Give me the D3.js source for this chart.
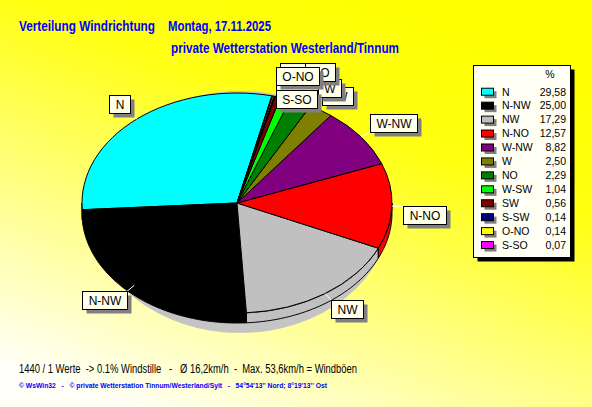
<!DOCTYPE html>
<html><head><meta charset="utf-8">
<script src="https://cdn.jsdelivr.net/npm/d3@7"></script>
<style>body{margin:0;overflow:hidden;background:#fff}text{white-space:pre}</style>
</head><body>
<svg id="c" width="592" height="407"></svg>
<script>
// ---- data ----
const directions = ["N","N-NW","NW","N-NO","W-NW","W","NO","W-SW","SW","S-SW","O-NO","S-SO"];
const percents   = [29.58,25.00,17.29,12.57,8.82,2.50,2.29,1.04,0.56,0.14,0.14,0.07];
const sliceColors = ["#00FFFF","#000000","#C0C0C0","#FF0000","#800080","#808000","#008000","#00FF00","#800000","#000080","#FFFF00","#FF00FF"];
const titleLeft = "Verteilung Windrichtung";
const titleDate = "Montag, 17.11.2025";
const subtitle = "private Wetterstation Westerland/Tinnum";
const statsLine = "1440 / 1 Werte  -> 0.1% Windstille   -   Ø 16,2km/h  -  Max. 53,6km/h = Windböen";
const creditLine = "© WsWin32   -   © private Wetterstation Tinnum/Westerland/Sylt   -   54°54'13'' Nord; 8°19'13'' Ost";
const legendHeader = "%";
// label collision nudges (top cluster)
const labelNudges = {"W":[-9,-7],"NO":[0,-14],"W-SW":[-13,1],"SW":[41,16],"S-SW":[3,-7.5],"O-NO":[0,-3.5],"S-SO":[1,20]};
const labelOrder = ["N","N-NW","NW","N-NO","W-NW","W-SW","S-SW","SW","W","NO","O-NO","S-SO"];

// ---- layout ----
const W = 592, H = 407;
const cx = 237, cy = 203, rx = 155, ry = 110, depth = 10, startDeg = 13;
const deg = Math.PI / 180;
const svg = d3.select("#c");
const font = "'Liberation Sans', Arial, sans-serif";

const defs = svg.append("defs");
const grad = defs.append("linearGradient").attr("id","bg").attr("x1","0.75").attr("y1","0").attr("x2","0.2").attr("y2","1");
grad.append("stop").attr("offset","0").attr("stop-color","#FFFF00");
grad.append("stop").attr("offset","0.3").attr("stop-color","#FFFF10");
grad.append("stop").attr("offset","1").attr("stop-color","#FFFFF8");
svg.append("rect").attr("width",W).attr("height",H).attr("fill","url(#bg)");

// titles
svg.append("text").attr("x",19).attr("y",30.5).attr("font-family",font).attr("font-weight","bold").attr("font-size",14)
  .attr("fill","#0000FF").attr("textLength",136).attr("lengthAdjust","spacingAndGlyphs").text(titleLeft);
svg.append("text").attr("x",168).attr("y",30.5).attr("font-family",font).attr("font-weight","bold").attr("font-size",14)
  .attr("fill","#0000FF").attr("textLength",103).attr("lengthAdjust","spacingAndGlyphs").text(titleDate);
svg.append("text").attr("x",171).attr("y",53.3).attr("font-family",font).attr("font-weight","bold").attr("font-size",14)
  .attr("fill","#0000FF").attr("textLength",228).attr("lengthAdjust","spacingAndGlyphs").text(subtitle);

// pie
const data = directions.map((k,i)=>({k, v:percents[i], c:sliceColors[i]}));
const pie = d3.pie().sort(null).value(d=>d.v).startAngle(startDeg*deg).endAngle(startDeg*deg - 2*Math.PI);
const arcs = pie(data);
const pt = (a, ex=0, ey=0) => [cx + (rx+ex)*Math.sin(a), cy - (ry+ey)*Math.cos(a)];

// shadow
svg.append("ellipse").attr("cx",240).attr("cy",212).attr("rx",150).attr("ry",121).attr("fill","#C4C4C4");

// walls (front half)
const frontLo = -270*deg, frontHi = -90*deg;
const lineGen = d3.line();
const wallG = svg.append("g");
arcs.forEach(a => {
  const lo = Math.max(Math.min(a.startAngle,a.endAngle), frontLo);
  const hi = Math.min(Math.max(a.startAngle,a.endAngle), frontHi);
  if (hi <= lo) return;
  const n = Math.max(2, Math.ceil((hi-lo)/deg));
  const top = d3.range(n+1).map(i => pt(lo + (hi-lo)*i/n));
  const bot = top.slice().reverse().map(p => [p[0], p[1]+depth]);
  wallG.append("path").attr("d", lineGen(top.concat(bot)) + "Z")
    .attr("fill", a.data.c).attr("stroke","#000").attr("stroke-width",1).attr("stroke-linejoin","round");
});

// top surface
const arcGen = d3.arc().innerRadius(0).outerRadius(rx);
svg.append("g").attr("transform",`translate(${cx},${cy}) scale(1,${ry/rx})`)
  .selectAll("path").data(arcs).join("path")
  .attr("d", arcGen).attr("fill", d=>d.data.c)
  .attr("stroke","#000").attr("stroke-width",1).attr("vector-effect","non-scaling-stroke").attr("stroke-linejoin","round");

// leaders + labels
const lab = {};
arcs.forEach(a => {
  const m = (a.startAngle + a.endAngle)/2;
  lab[a.data.k] = {m, p0: pt(m), p1: pt(m, 11, 8)};
});
const leaderG = svg.append("g");
arcs.forEach(a => {
  const L = lab[a.data.k];
  if (labelNudges[a.data.k]) return;
  leaderG.append("line").attr("x1",L.p0[0]).attr("y1",L.p0[1]).attr("x2",L.p1[0]).attr("y2",L.p1[1])
    .attr("stroke","#FFFFFF").attr("stroke-width",1);
});
const labG = svg.append("g");
labelOrder.forEach(k => {
  const L = lab[k];
  const g = labG.append("g");
  const t = g.append("text").attr("font-family",font).attr("font-size",12).attr("fill","#000").text(k);
  const tw = t.node().getComputedTextLength();
  const bw = Math.round(tw + 12), bh = 18;
  const s = Math.sin(L.m), c = Math.cos(L.m);
  let bx = s >= 0 ? L.p1[0] : L.p1[0] - bw;
  let by = c > 0 ? L.p1[1] - bh : L.p1[1];
  const nd = labelNudges[k] || [0,0];
  bx = Math.round(bx + nd[0]) + 0.5; by = Math.round(by + nd[1]) + 0.5;
  g.insert("rect","text").attr("x",bx+4).attr("y",by+4).attr("width",bw).attr("height",bh).attr("fill","#808080");
  g.insert("rect","text").attr("x",bx).attr("y",by).attr("width",bw).attr("height",bh).attr("fill","#FFFFEA").attr("stroke","#000");
  t.attr("x", bx + bw/2).attr("y", by + 13.5).attr("text-anchor","middle");
});

// legend
const lx = 473.5, ly = 65.5, lw = 97, lh = 192;
svg.append("rect").attr("x",lx+4).attr("y",ly+4).attr("width",lw).attr("height",lh).attr("fill","#000");
svg.append("rect").attr("x",lx).attr("y",ly).attr("width",lw).attr("height",lh).attr("fill","#FFFFF4").attr("stroke","#000");
svg.append("text").attr("x",550).attr("y",78).attr("font-family",font).attr("font-size",10.5).attr("text-anchor","middle").text(legendHeader);
const yBand = d3.scaleBand().domain(directions).range([84.75, 84.75 + 13.94*directions.length]);
const fmt = d3.formatLocale({decimal:",", thousands:".", grouping:[3], currency:["","€"]}).format(".2f");
const rows = svg.append("g").selectAll("g").data(data).join("g")
  .attr("transform", d => `translate(0,${yBand(d.k) + yBand.bandwidth()/2})`);
rows.append("rect").attr("x",484.5).attr("y",-0.5).attr("width",12).attr("height",7).attr("fill","#808080");
rows.append("rect").attr("x",481.5).attr("y",-3.5).attr("width",12).attr("height",7).attr("fill",d=>d.c).attr("stroke","#000");
rows.append("text").attr("x",502).attr("y",3.8).attr("font-family",font).attr("font-size",10.5).text(d=>d.k);
rows.append("text").attr("x",566).attr("y",3.8).attr("font-family",font).attr("font-size",10.5).attr("text-anchor","end").text(d=>fmt(d.v));

// footer
svg.append("text").attr("x",19).attr("y",373).attr("font-family",font).attr("font-size",12).attr("fill","#000")
  .attr("textLength",338).attr("lengthAdjust","spacingAndGlyphs").text(statsLine);
svg.append("text").attr("x",19).attr("y",388.3).attr("font-family",font).attr("font-size",8).attr("font-weight","bold").attr("fill","#0000FF")
  .attr("textLength",308).attr("lengthAdjust","spacingAndGlyphs").text(creditLine);
</script>
</body></html>
